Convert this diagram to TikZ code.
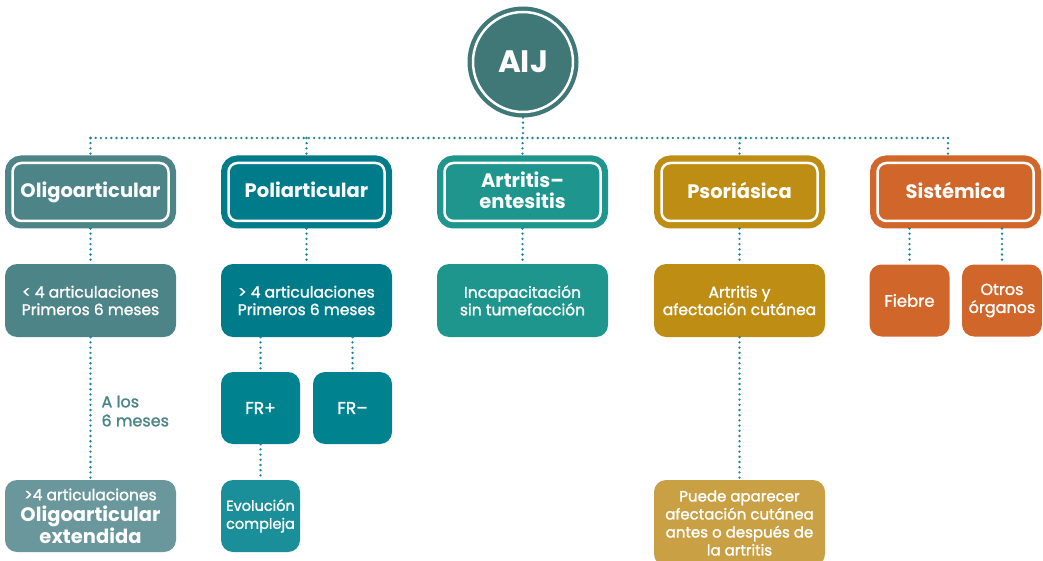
\documentclass[tikz,border=0pt]{standalone}
\usepackage{fontspec}
\setmainfont{Poppins}
\newfontfamily\medium[FakeBold=1.5]{Poppins}
\usetikzlibrary{calc}

\definecolor{aijcol}{HTML}{3F7877}
\definecolor{oligocol}{HTML}{4D8488}
\definecolor{extcol}{HTML}{6A979B}
\definecolor{policol}{HTML}{007B8A}
\definecolor{frcol}{HTML}{00838F}
\definecolor{evocol}{HTML}{1A8F9A}
\definecolor{artcol}{HTML}{1F968D}
\definecolor{psorcol}{HTML}{BE8E14}
\definecolor{puedecol}{HTML}{C9A043}
\definecolor{sistcol}{HTML}{D1662A}
\definecolor{dotcol}{HTML}{1B8597}

\begin{document}
\begin{tikzpicture}[x=1pt,y=-1pt,
  dots/.style={draw=dotcol, line width=2.6pt, line cap=round, dash pattern=on 0pt off 5.2pt},
  head/.style={fill=#1, draw=white, line width=2.5pt, rounded corners=9pt,
    preaction={draw=#1, line width=15pt}, outer sep=7.5pt, text depth=4pt,
    minimum width=156pt, minimum height=58pt, text=white, align=center,
    font=\fontsize{19.5}{21}\selectfont\bfseries},
  box/.style={fill=#1, rounded corners=12pt, text=white, align=center, inner sep=2pt,
    font=\fontsize{15.5}{17.5}\selectfont\medium},
  wide/.style={minimum width=171pt, minimum height=73pt},
  small/.style={minimum width=79pt, minimum height=72pt}]
\useasboundingbox (0,0) rectangle (1043,561);

% top
\node[circle, fill=aijcol, draw=white, line width=2.5pt, minimum size=100pt,
  preaction={draw=aijcol, line width=11pt}, outer sep=5.5pt, text=white,
  font=\fontsize{31}{32}\selectfont\bfseries] (aij) at (523,62) {AIJ};

% the five kinds
\foreach \n/\x/\c/\t in {oligo/90.5/oligocol/Oligoarticular, poli/306.5/policol/Poliarticular,
    arte/522.5/artcol/{Artritis–\\entesitis}, psor/739.5/psorcol/Psoriásica, sist/955.5/sistcol/Sistémica}
  \node[head=\c] (\n) at (\x,192) {\t};

% second row
\node[box=oligocol, wide] (oligo2) at (90.5,300.5) {< 4 articulaciones\\Primeros 6 meses};
\node[box=policol, wide] (poli2) at (306.5,300.5) {> 4 articulaciones\\Primeros 6 meses};
\node[box=artcol, wide] (arte2) at (522.5,300.5) {Incapacitación\\sin tumefacción};
\node[box=psorcol, wide] (psor2) at (739.5,300.5) {Artritis y\\afectación cutánea};
\node[box=sistcol, small, minimum width=80pt, font=\fontsize{16.5}{18}\selectfont\medium] (fiebre) at (909.5,300.5) {Fiebre};
\node[box=sistcol, small, minimum width=80pt, font=\fontsize{16}{18}\selectfont\medium] (otros) at (1002,300.5) {Otros\\órganos};

% lower rows
\node[box=frcol, small, font=\fontsize{17}{18}\selectfont\medium] (frp) at (260.5,408) {FR+};
\node[box=frcol, small, font=\fontsize{17}{18}\selectfont\medium] (frm) at (352.5,408) {FR–};
\node[box=evocol, small, font=\fontsize{14.5}{18}\selectfont\medium] (evo) at (260.5,516) {Evolución\\compleja};
\node[box=extcol, wide, minimum height=72pt, font=\fontsize{19.5}{21.5}\selectfont\bfseries] (ext) at (90.5,516)
  {{\fontsize{15.5}{17}\selectfont\mdseries\medium >4 articulaciones}\\Oligoarticular\\extendida};
\node[box=puedecol, wide, minimum height=86pt, font=\fontsize{15}{18}\selectfont\medium] (puede) at (739.5,523)
  {Puede aparecer\\afectación cutánea\\antes o después de\\la artritis};
\node[anchor=west, align=left, text=oligocol, font=\fontsize{16}{19}\selectfont\medium] (lbl) at (98,411) {A los\\6 meses};

% connectors
\coordinate (bus) at (523,138);
\coordinate (sistc) at ([xshift=-7.5pt]sist.north);
\draw[dots] (aij.south) -- (bus);
\draw[dots] (oligo.north |- bus) -- (sistc |- bus);
\foreach \n in {oligo,poli,arte,psor}
  \draw[dots] (\n.north |- bus) -- (\n.north);
\draw[dots] (sistc |- bus) -- (sistc);
\foreach \a/\b in {oligo/oligo2, poli/poli2, arte/arte2, psor/psor2, oligo2/ext, psor2/puede}
  \draw[dots] (\a.south) -- (\b.north);
\draw[dots] (frp.north |- poli2.south) -- (frp.north);
\draw[dots] (frm.north |- poli2.south) -- (frm.north);
\draw[dots] (frp.south) -- (evo.north);
\draw[dots] (fiebre.north |- sist.south) -- (fiebre.north);
\draw[dots] (otros.north |- sist.south) -- (otros.north);
\end{tikzpicture}
\end{document}
